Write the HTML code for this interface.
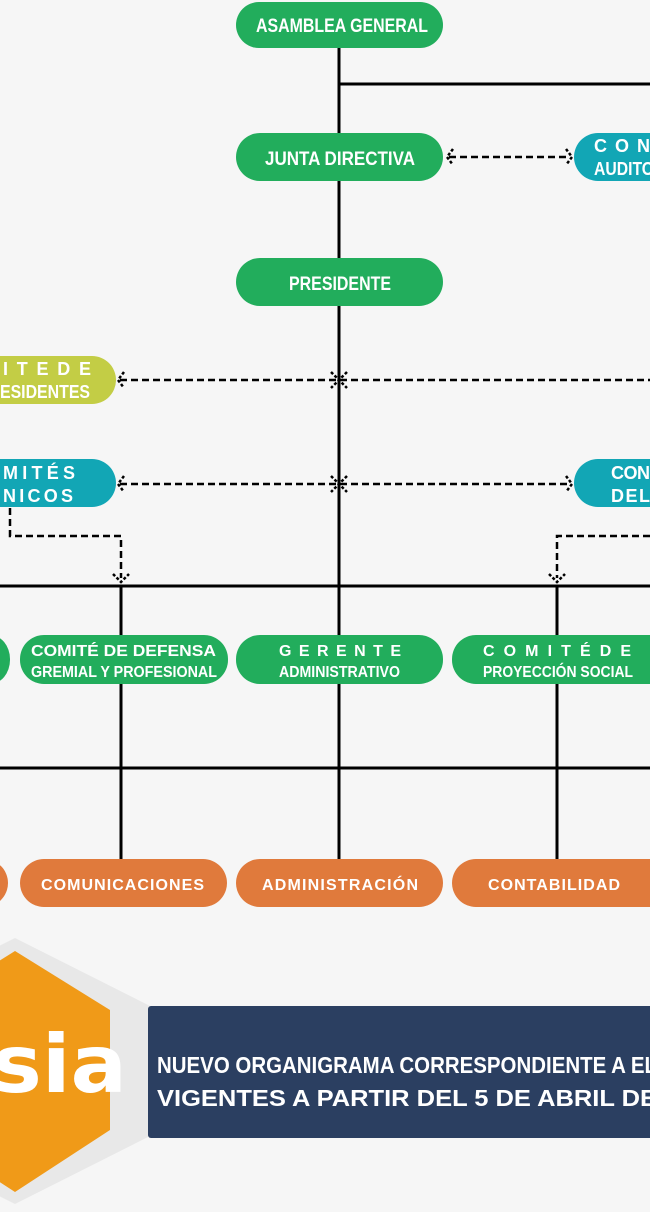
<!DOCTYPE html>
<html><head><meta charset="utf-8"><style>
html,body{margin:0;padding:0;background:#f6f6f6;}
svg{display:block}
text{font-family:"Liberation Sans",sans-serif;font-weight:bold;fill:#fff;}
</style></head><body>
<svg width="650" height="1212" viewBox="0 0 650 1212" xmlns="http://www.w3.org/2000/svg">
<rect width="650" height="1212" fill="#f6f6f6"/>
<g stroke="#000" stroke-width="3" fill="none">
<line x1="339" y1="48" x2="339" y2="860"/>
<line x1="339" y1="84" x2="650" y2="84"/>
<line x1="0" y1="586" x2="650" y2="586"/>
<line x1="0" y1="768" x2="650" y2="768"/>
<line x1="121" y1="586" x2="121" y2="860"/>
<line x1="557" y1="586" x2="557" y2="860"/>
</g>
<g stroke="#000" stroke-width="2.5" fill="none" stroke-dasharray="7,4">
<line x1="449" y1="157" x2="570" y2="157"/>
<line x1="120" y1="380" x2="650" y2="380"/>
<line x1="120" y1="484" x2="570" y2="484"/>
<polyline points="10,508 10,536 121,536 121,578"/>
<polyline points="650,536 557,536 557,578"/>
</g>
<g stroke="#000" stroke-width="2.5" fill="none" stroke-dasharray="3,2">
<polyline points="453,149 447,157 453,165"/>
<polyline points="566,149 572,157 566,165"/>
<polyline points="124,372 118,380 124,388"/>
<polyline points="331,372 339,380 331,388"/>
<polyline points="347,372 339,380 347,388"/>
<polyline points="124,476 118,484 124,492"/>
<polyline points="331,476 339,484 331,492"/>
<polyline points="347,476 339,484 347,492"/>
<polyline points="566,476 572,484 566,492"/>
<polyline points="113,574 121,582 129,574"/>
<polyline points="549,574 557,582 565,574"/>
</g>
<g fill="#22ad5c">
<rect x="236" y="2" width="207" height="46" rx="23"/>
<rect x="236" y="133" width="207" height="48" rx="24"/>
<rect x="236" y="258" width="207" height="48" rx="24"/>
<rect x="-30" y="635" width="40" height="49" rx="24"/>
<rect x="20" y="635" width="208" height="49" rx="24"/>
<rect x="236" y="635" width="207" height="49" rx="24"/>
<rect x="452" y="635" width="230" height="49" rx="24"/>
</g>
<g fill="#12a6b5">
<rect x="574" y="133" width="120" height="48" rx="24"/>
<rect x="-60" y="459" width="176" height="48" rx="24"/>
<rect x="574" y="459" width="120" height="48" rx="24"/>
</g>
<rect x="-60" y="356" width="176" height="48" rx="24" fill="#c3cd45"/>
<g fill="#e07a3c">
<rect x="-40" y="859" width="48" height="48" rx="24"/>
<rect x="20" y="859" width="207" height="48" rx="24"/>
<rect x="236" y="859" width="207" height="48" rx="24"/>
<rect x="452" y="859" width="230" height="48" rx="24"/>
</g>
<text x="256" y="32" font-size="19" textLength="172" lengthAdjust="spacingAndGlyphs">ASAMBLEA GENERAL</text>
<text x="265" y="165" font-size="19" textLength="150" lengthAdjust="spacingAndGlyphs">JUNTA DIRECTIVA</text>
<text x="289" y="290" font-size="19" textLength="102" lengthAdjust="spacingAndGlyphs">PRESIDENTE</text>
<text x="594" y="152" font-size="18" textLength="56" lengthAdjust="spacing">C O N</text>
<text x="594" y="175" font-size="18" textLength="60" lengthAdjust="spacingAndGlyphs">AUDITO</text>
<text x="3" y="375" font-size="18" textLength="88" lengthAdjust="spacing">I T E   D E</text>
<text x="0" y="398" font-size="18" textLength="90" lengthAdjust="spacingAndGlyphs">ESIDENTES</text>
<text x="3" y="479" font-size="18" textLength="72" lengthAdjust="spacing">M I T É S</text>
<text x="3" y="502" font-size="18" textLength="70" lengthAdjust="spacing">N I C O S</text>
<text x="611" y="479" font-size="18" textLength="39" lengthAdjust="spacing">C O N</text>
<text x="611" y="502" font-size="18" textLength="39" lengthAdjust="spacing">D E L</text>
<text x="31" y="656" font-size="16" textLength="185" lengthAdjust="spacingAndGlyphs">COMITÉ DE DEFENSA</text>
<text x="31" y="677" font-size="16" textLength="186" lengthAdjust="spacingAndGlyphs">GREMIAL Y PROFESIONAL</text>
<text x="279" y="656" font-size="16" textLength="122" lengthAdjust="spacing">G E R E N T E</text>
<text x="279" y="677" font-size="16" textLength="121" lengthAdjust="spacingAndGlyphs">ADMINISTRATIVO</text>
<text x="483" y="656" font-size="16" textLength="148" lengthAdjust="spacing">C O M I T É   D E</text>
<text x="483" y="677" font-size="16" textLength="150" lengthAdjust="spacingAndGlyphs">PROYECCIÓN SOCIAL</text>
<text x="41" y="890" font-size="16" textLength="163" lengthAdjust="spacing">COMUNICACIONES</text>
<text x="262" y="890" font-size="16" textLength="156" lengthAdjust="spacing">ADMINISTRACIÓN</text>
<text x="488" y="890" font-size="16" textLength="132" lengthAdjust="spacing">CONTABILIDAD</text>
<polygon points="15,938 150,1006 150,1136 15,1204 -120,1136 -120,1006" fill="#e8e8e8"/>
<polygon points="15,951 110,1010 110,1130 15,1192 -80,1130 -80,1010" fill="#f09a18"/>
<text x="-8" y="1092" font-size="80" style="font-family:'DejaVu Sans',sans-serif" textLength="135" lengthAdjust="spacingAndGlyphs">sia</text>
<rect x="148" y="1006" width="520" height="132" rx="3" fill="#2b3f61"/>
<text x="157" y="1073" font-size="23" textLength="500" lengthAdjust="spacingAndGlyphs">NUEVO ORGANIGRAMA CORRESPONDIENTE A EL</text>
<text x="157" y="1106" font-size="23" textLength="500" lengthAdjust="spacingAndGlyphs">VIGENTES A PARTIR DEL 5 DE ABRIL DE</text>
</svg>
</body></html>
